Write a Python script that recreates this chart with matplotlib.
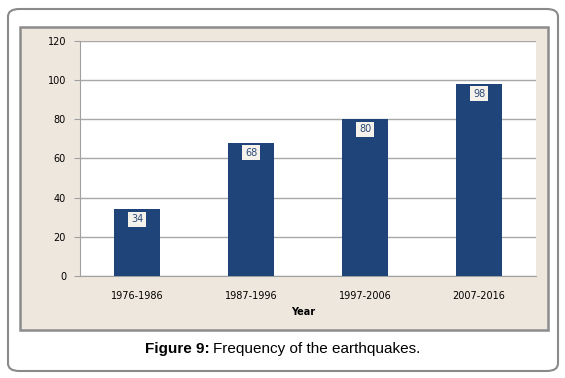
import matplotlib
matplotlib.use("Agg")
import matplotlib.pyplot as plt
from matplotlib.patches import FancyBboxPatch, Rectangle

categories = ["1976-1986", "1987-1996", "1997-2006", "2007-2016"]
values = [34, 68, 80, 98]
yticks = [0, 20, 40, 60, 80, 100, 120]

W, H = 565, 378
fig = plt.figure(figsize=(W / 100, H / 100), dpi=100)
fig.patch.set_facecolor("white")

def fx(x): return x / W
def fy(y): return 1 - y / H

outer = FancyBboxPatch((fx(8), fy(371)), fx(550), (362) / H,
                       boxstyle="round,pad=0,rounding_size=0.02",
                       transform=fig.transFigure, facecolor="white",
                       edgecolor="#8a8a8a", linewidth=1.5, zorder=-2)
fig.patches.append(outer)
beige = Rectangle((fx(20), fy(330)), fx(528), 303 / H, transform=fig.transFigure,
                  facecolor="#EEE7DD", edgecolor="#8c8c8c", linewidth=1.8, zorder=-1)
fig.patches.append(beige)

ax = fig.add_axes([fx(80), fy(276), fx(456), 235 / H])
ax.set_zorder(2)
ax.set_facecolor("white")
x = range(len(categories))
ax.bar(x, values, width=0.395, color="#1F4479", zorder=3)
for xi, v in zip(x, values):
    ax.text(xi, v - 5, str(v), ha="center", va="center", fontsize=7, color="#2B4A7A",
            bbox=dict(boxstyle="square,pad=0.25", facecolor="#F5F2EC", edgecolor="none"),
            zorder=4)
ax.set_xlim(-0.5, 3.5)
ax.set_ylim(0, 120)
ax.set_yticks(yticks)
ax.set_yticklabels([str(t) for t in yticks], fontsize=7)
ax.set_xticks(list(x))
ax.set_xticklabels(categories, fontsize=7)
ax.yaxis.grid(True, color="#a8a8a8", linewidth=1, zorder=0)
ax.set_axisbelow(True)
for s in ["top", "right"]:
    ax.spines[s].set_visible(False)
ax.spines["left"].set_color("#a0a0a0")
ax.spines["bottom"].set_color("#a0a0a0")
ax.tick_params(axis="y", length=4, color="#a0a0a0", pad=6)
ax.tick_params(axis="x", length=0, pad=11)
ax.set_xlabel("Year", fontsize=7, fontweight="bold")
ax.xaxis.set_label_coords(0.49, -0.13)

t1 = fig.text(fx(145), fy(349), "Figure 9:", fontsize=11, fontweight="bold",
              family="Liberation Sans", ha="left", va="center")
fig.canvas.draw()
bb = t1.get_window_extent()
fig.text(bb.x1 / W + fx(3), fy(349), "Frequency of the earthquakes.", fontsize=11,
         family="Liberation Sans", ha="left", va="center")

fig.savefig("out.png", dpi=100)
